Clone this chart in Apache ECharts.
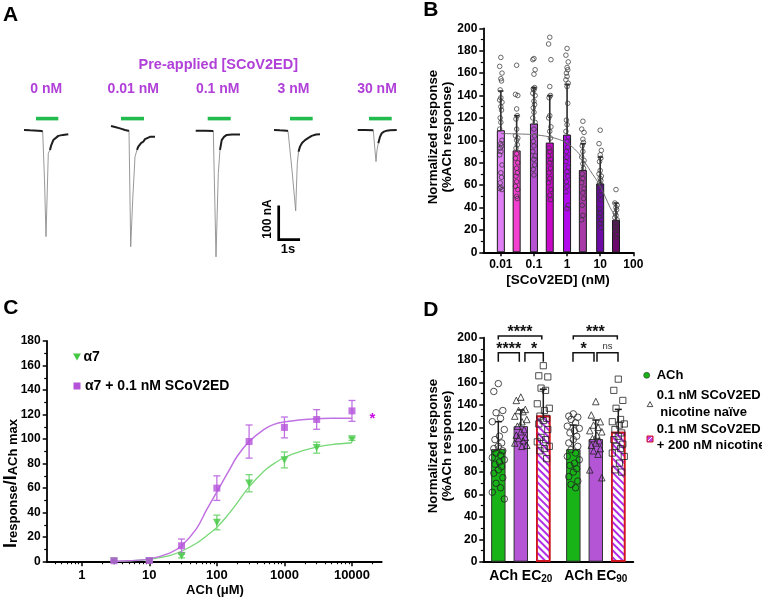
<!DOCTYPE html>
<html>
<head>
<meta charset="utf-8">
<script src="https://cdn.jsdelivr.net/npm/echarts@6.0.0/dist/echarts.min.js"></script>
<style>
html,body{margin:0;padding:0;background:#fff;}
#chart{width:762px;height:598px;}
</style>
</head>
<body>
<div id="chart"></div>
<script>
// ======================= DATA =======================
// ---- Panel A: example current traces, points are [time (s), current (nA)] ----
const aConcLabels = ['0 nM', '0.01 nM', '0.1 nM', '3 nM', '30 nM'];
const aTrace1Pre   = [[1.2,0],[1.5,-1],[1.9,-2],[2.085,-3],[2.135,-5]];
const aTrace1Spike = [[2.135,-5],[2.225,-153],[2.3,-327],[2.35,-215],[2.415,-71],[2.5,-61]];
const aTrace1Tail  = [[2.5,-61],[2.55,-49],[2.665,-31],[2.75,-25],[2.915,-18],[3.15,-15],[3.415,-13]];
const aTrace2Pre   = [[5.55,12],[5.75,9],[6.0,5],[6.25,0],[6.415,-2],[6.45,-3]];
const aTrace2Spike = [[6.45,-3],[6.535,-358],[6.635,-215],[6.75,-82],[6.85,-61]];
const aTrace2Tail  = [[6.85,-61],[6.915,-51],[7.05,-40],[7.165,-36],[7.25,-28],[7.335,-22],[7.5,-21],[7.75,-21]];
const aTrace3Pre   = [[9.785,-2],[10.25,-2],[10.665,-3]];
const aTrace3Spike = [[10.665,-3],[10.8,-389],[10.85,-276],[10.915,-133],[11.0,-61]];
const aTrace3Tail  = [[11.0,-61],[11.085,-31],[11.2,-21],[11.335,-15],[11.6,-14],[12.0,-14]];
const aTrace4Pre   = [[13.7,0],[14.0,-1],[14.335,-2],[14.4,-3]];
const aTrace4Spike = [[14.4,-3],[14.6,-123],[14.785,-248],[14.825,-169],[14.865,-102],[14.925,-67]];
const aTrace4Tail  = [[14.925,-67],[15.0,-51],[15.1,-40],[15.25,-31],[15.4,-25],[15.585,-18],[15.8,-14],[16.0,-13]];
const aTrace5Pre   = [[17.885,0],[18.25,0],[18.665,-1]];
const aTrace5Spike = [[18.665,-1],[18.725,-46],[18.8,-97],[18.85,-61],[18.915,-41]];
const aTrace5Tail  = [[18.915,-41],[19.0,-21],[19.085,-10],[19.2,-5],[19.335,-2],[19.5,-1],[19.835,0]];
const aAppOn  = [1.8, 6.05, 10.385, 14.5, 18.45];     // ACh application start (s)
const aAppOff = [2.915, 7.2, 11.535, 15.635, 19.585]; // ACh application end (s)
const aAppLevel = 35;                                  // nA level where the bar is drawn
const aScaleT0 = 13.935, aScaleI0 = -336, aScaleNA = 100, aScaleS = 1;

// ---- Panel B ----
const bConc = [0.01, 0.03, 0.1, 0.3, 1, 3, 10, 30];
const bMean = [109, 91, 115, 98, 105, 73.5, 61.5, 29];
const bMeanPlusSD = [144, 122, 147, 140, 150, 97, 85, 44];
const bPts001 = [174,166,160,155,153,145,138,136,134,130,127,120,116,110,100,97,95,93,90,87,78,71,67,62,58,57,56];
const bPts003 = [167,141,140,128,122,119,110,104,102,100,96,93,88,84,80,75,71,68,63,59,56,50,48];
const bPts01  = [173,172,163,159,147,146,145,142,140,135,132,129,125,120,116,110,104,99,95,90,86,83,78,74,69];
const bPts03  = [192,186,172,148,140,138,122,120,112,108,102,93,90,86,83,80,75,71,66,62,56,51,47];
const bPts1   = [182,176,170,165,163,160,157,154,151,148,133,118,114,108,103,99,94,90,85,81,76,72,68,63,59,54,42,39];
const bPts3   = [117,110,107,101,98,95,90,85,82,79,75,70,66,62,57,53,48,42,33,29];
const bPts10  = [109,97,91,87,84,81,73,70,68,66,64,62,60,58,55,51,47,39,35,32,29,26,22];
const bPts30  = [56,44,42,40,38,35,33,31,29,27,25,23,21,19,16,13];
const bFitConc = [0.01, 0.03, 0.1, 0.3, 0.6, 1, 2, 3, 5, 10, 20, 30];
const bFitResp = [106, 105.7, 105, 103, 100.5, 97.5, 90, 83, 73, 59, 40, 31];
const bTickVals = [0.01, 0.1, 1, 10, 100];

// ---- Panel C ----
const cAch = [3, 10, 30, 100, 300, 1000, 3000, 10000];
const cA7Mean = [0.3, 0.3, 4.6, 32, 64, 83, 93, 100];
const cA7Err  = [0.5, 0.5, 1.5, 6, 7, 6.5, 4.5, 1];
const cScoMean = [0.8, 1, 13, 60, 98, 109.5, 116, 123];
const cScoErr  = [0.5, 1, 5.5, 10, 13.5, 8.5, 8, 8.5];
const cFitAch = [3,5,10,20,30,50,70,100,150,200,300,500,700,1000,2000,3000,5000,10000];
const cA7Fit  = [0.3,0.7,2,5,8.5,15,21,28,39,48,61,74,80,85,91,93.5,95.5,97];
const cScoFit = [0.3,0.8,2.3,7,13,27,42,57,74,86,98,108,112,114,116,116.5,117,117];
const cTickVals = [1, 10, 100, 1000, 10000];

// ---- Panel D ----
const dGroups = ['ACh EC20', 'ACh EC90'];
const dAChMean = [100.5, 100.5];
const dAChTop  = [125, 122];
const dNaiveMean = [121, 109.5];
const dNaiveTop  = [135.5, 126.5];
const dNicMean = [130.5, 116];
const dNicTop  = [154, 136];
const dAChPts20 = [159,152,135,133,128,125,118,112,109,106,103,101,99,97,95,93,91,89,87,85,82,79,75,70,66,62,56];
const dNaivePts20 = [147,144,136,135,134,130,127,125,121,118,116,113,111,110,108,106,104,103];
const dNicPts20 = [175,166,165,155,153,141,137,135,130,128,126,123,118,111,109,107,103,101,99,92];
const dAChPts90 = [132,130,129,127,124,121,119,117,115,112,109,106,103,100,97,94,91,88,86,83,80,76,72,69,66];
const dNaivePts90 = [143,131,125,122,120,117,116,113,110,108,106,104,101,99,96,82,75];
const dNicPts90 = [163,153,144,137,127,125,123,122,118,115,112,109,105,103,101,97,94,88,82,80];

// ======================= DRAWING =======================
const FONT = '"Liberation Sans", Arial, Helvetica, sans-serif';
const lg = v => Math.log10(v);
const PURPLE_TXT = '#b040d8';
const bColors = ['#e07ef6','#f23fd0','#b552d2','#c80ac8','#b20cee','#a83aa8','#6e0aa6','#6c056c'];

function T(x, y, text, size, o) {
  o = o || {};
  const st = {text, fontFamily: FONT, fontSize: size, fontWeight: o.weight || 'bold',
    fill: o.color || '#000',
    textAlign: o.align || 'center', align: o.align || 'center',
    textVerticalAlign: o.valign || 'middle', verticalAlign: o.valign || 'middle'};
  if (o.rich) st.rich = o.rich;
  const el = {type: 'text', x, y, silent: true, style: st, z: 100};
  if (o.rotation != null) el.rotation = o.rotation;
  return el;
}

function errRender(color, capHalf, lw, both) {
  return function (params, api) {
    const x = api.value(0), lo = api.value(1), hi = api.value(2);
    const a = api.coord([x, lo]), b = api.coord([x, hi]);
    const st = {stroke: color, lineWidth: lw};
    const ch = [
      {type: 'line', shape: {x1: a[0], y1: a[1], x2: b[0], y2: b[1]}, style: st},
      {type: 'line', shape: {x1: b[0] - capHalf, y1: b[1], x2: b[0] + capHalf, y2: b[1]}, style: st}
    ];
    if (both) ch.push({type: 'line', shape: {x1: a[0] - capHalf, y1: a[1], x2: a[0] + capHalf, y2: a[1]}, style: st});
    return {type: 'group', children: ch};
  };
}

function yAxisStyled(gridIndex, max) {
  return {type: 'value', gridIndex, min: 0, max, interval: 20,
    axisLine: {show: true, onZero: false, lineStyle: {color: '#000', width: 1.8}},
    axisTick: {show: true, length: 4, lineStyle: {color: '#000', width: 1.5}},
    minorTick: {show: true, splitNumber: 2, length: 2.5, lineStyle: {color: '#000', width: 1.2}},
    axisLabel: {color: '#000', fontFamily: FONT, fontWeight: 'bold', fontSize: 12, margin: 6},
    splitLine: {show: false}, minorSplitLine: {show: false}};
}

const grids = [
  {left: 0, top: 97.4, width: 400, height: 163},          // A
  {left: 483.3, top: 28.3, width: 150, height: 224},      // B
  {left: 46.7, top: 341, width: 335, height: 220.7},      // C
  {left: 483.3, top: 337.7, width: 150, height: 224}      // D
].map(g => Object.assign({show: false, containLabel: false, outerBoundsMode: 'none'}, g));

// minor ticks for the C log axis
const cMinor = [];
for (let n = -1; n <= 4; n++) for (let k = 2; k <= 9; k++) {
  const v = lg(k * Math.pow(10, n));
  if (v > -0.519 && v < 4.44) cMinor.push(v);
}

const xAxes = [
  {type: 'value', gridIndex: 0, min: 0, max: 20, show: false},
  {type: 'value', gridIndex: 1, min: -2.53, max: 2,
    axisLine: {show: true, onZero: false, lineStyle: {color: '#000', width: 1.8}},
    axisTick: {show: true, customValues: bTickVals.map(lg), length: 4, lineStyle: {color: '#000', width: 1.5}},
    axisLabel: {customValues: bTickVals.map(lg), formatter: v => String(bTickVals[Math.round(v) + 2]),
      color: '#000', fontFamily: FONT, fontWeight: 'bold', fontSize: 12, margin: 6},
    splitLine: {show: false}},
  {type: 'value', gridIndex: 2, min: -0.519, max: 4.44,
    axisLine: {show: true, onZero: false, lineStyle: {color: '#000', width: 1.8}},
    axisTick: {show: true, customValues: cTickVals.map(lg), length: 4.5, lineStyle: {color: '#000', width: 1.5}},
    axisLabel: {customValues: cTickVals.map(lg), formatter: v => String(cTickVals[Math.round(v)]),
      color: '#000', fontFamily: FONT, fontWeight: 'bold', fontSize: 13, margin: 7},
    splitLine: {show: false}},
  {type: 'value', gridIndex: 2, min: -0.519, max: 4.44, position: 'bottom',
    axisLine: {show: false, onZero: false},
    axisTick: {show: true, customValues: cMinor, length: 2.5, lineStyle: {color: '#000', width: 1.1}},
    axisLabel: {show: false}, splitLine: {show: false}},
  {type: 'category', gridIndex: 3, data: dGroups,
    axisLine: {show: true, onZero: false, lineStyle: {color: '#000', width: 1.8}},
    axisTick: {show: false},
    axisLabel: {interval: 0, hideOverlap: false, color: '#000', fontFamily: FONT, fontWeight: 'bold', margin: 7,
      formatter: v => '{a|' + v.replace(/(\d+)$/, '}{s|$1') + '}',
      rich: {a: {fontFamily: FONT, fontWeight: 'bold', fontSize: 14, color: '#000', verticalAlign: 'top', lineHeight: 16},
             s: {fontFamily: FONT, fontWeight: 'bold', fontSize: 10, color: '#000', verticalAlign: 'bottom', lineHeight: 10, padding: [9, 0, 0, 0]}}},
    splitLine: {show: false}},
  {type: 'value', gridIndex: 3, min: 0, max: 2, show: false}
];

const yAxes = [
  {type: 'value', gridIndex: 0, min: -400, max: 100, show: false},
  yAxisStyled(1, 200),
  yAxisStyled(2, 180),
  yAxisStyled(3, 200)
];

const series = [];

// ---------- Panel A ----------
const aTraces = [
  [aTrace1Pre, aTrace1Spike, aTrace1Tail],
  [aTrace2Pre, aTrace2Spike, aTrace2Tail],
  [aTrace3Pre, aTrace3Spike, aTrace3Tail],
  [aTrace4Pre, aTrace4Spike, aTrace4Tail],
  [aTrace5Pre, aTrace5Spike, aTrace5Tail]
];
aTraces.forEach(parts => parts.forEach((d, k) => {
  series.push({type: 'line', xAxisIndex: 0, yAxisIndex: 0, data: d, symbol: 'none', silent: true,
    lineStyle: k === 1 ? {color: '#8c8c8c', width: 0.9} : {color: '#1e1e1e', width: 2}, z: k === 1 ? 2 : 3});
}));
series.push({type: 'custom', xAxisIndex: 0, yAxisIndex: 0, silent: true,
  data: aAppOn.map((t, i) => [t, aAppOff[i], aAppLevel]), encode: {x: [0, 1], y: 2},
  renderItem: (p, api) => {
    const a = api.coord([api.value(0), api.value(2)]), b = api.coord([api.value(1), api.value(2)]);
    return {type: 'line', shape: {x1: a[0], y1: a[1], x2: b[0], y2: b[1]}, style: {stroke: '#22bb4e', lineWidth: 3.6}};
  }});
series.push({type: 'line', xAxisIndex: 0, yAxisIndex: 0, symbol: 'none', silent: true,
  data: [[aScaleT0, aScaleI0 + aScaleNA], [aScaleT0, aScaleI0], [aScaleT0 + aScaleS, aScaleI0]],
  lineStyle: {color: '#000', width: 2.7, cap: 'square', join: 'miter'}});

// ---------- Panel B ----------
series.push({type: 'bar', xAxisIndex: 1, yAxisIndex: 1, barWidth: 8, silent: true, z: 2,
  data: bConc.map((c, i) => ({value: [lg(c), bMean[i]], itemStyle: {color: bColors[i], borderColor: '#1a1a1a', borderWidth: 1}}))});
series.push({type: 'custom', xAxisIndex: 1, yAxisIndex: 1, silent: true, z: 3,
  data: bConc.map((c, i) => [lg(c), bMean[i], bMeanPlusSD[i]]), encode: {x: 0, y: [1, 2]},
  renderItem: errRender('#2a2a2a', 2.6, 1.6, false)});
const bPts = [bPts001, bPts003, bPts01, bPts03, bPts1, bPts3, bPts10, bPts30];
const bJit = [0, -0.035, 0.035, 0, 0.02, -0.02];
const bScatter = [];
bPts.forEach((arr, i) => arr.forEach((v, j) => bScatter.push([lg(bConc[i]) + bJit[j % bJit.length], v])));
series.push({type: 'scatter', xAxisIndex: 1, yAxisIndex: 1, silent: true, z: 4, symbol: 'circle', symbolSize: 4.6,
  itemStyle: {color: 'rgba(0,0,0,0)', borderColor: '#333', borderWidth: 0.9}, data: bScatter});
series.push({type: 'line', xAxisIndex: 1, yAxisIndex: 1, silent: true, z: 5, symbol: 'none', smooth: 0.4,
  lineStyle: {color: '#666', width: 0.9}, data: bFitConc.map((c, i) => [lg(c), bFitResp[i]])});

// ---------- Panel C ----------
const cGreen = '#45c845', cGreenLine = '#78d878', cPurple = '#b452d9', cPurpleLine = '#c172e2';
series.push({type: 'line', xAxisIndex: 2, yAxisIndex: 2, silent: true, symbol: 'none', smooth: 0.4, z: 2,
  lineStyle: {color: cGreenLine, width: 1.3}, data: cFitAch.map((c, i) => [lg(c), cA7Fit[i]])});
series.push({type: 'line', xAxisIndex: 2, yAxisIndex: 2, silent: true, symbol: 'none', smooth: 0.4, z: 2,
  lineStyle: {color: cPurpleLine, width: 1.5}, data: cFitAch.map((c, i) => [lg(c), cScoFit[i]])});
series.push({type: 'custom', xAxisIndex: 2, yAxisIndex: 2, silent: true, z: 3,
  data: cAch.map((c, i) => [lg(c), cA7Mean[i] - cA7Err[i], cA7Mean[i] + cA7Err[i]]), encode: {x: 0, y: [1, 2]},
  renderItem: errRender(cGreenLine, 3.5, 1.3, true)});
series.push({type: 'custom', xAxisIndex: 2, yAxisIndex: 2, silent: true, z: 3,
  data: cAch.map((c, i) => [lg(c), cScoMean[i] - cScoErr[i], cScoMean[i] + cScoErr[i]]), encode: {x: 0, y: [1, 2]},
  renderItem: errRender(cPurpleLine, 3.5, 1.3, true)});
series.push({type: 'scatter', xAxisIndex: 2, yAxisIndex: 2, silent: true, z: 4,
  symbol: 'path://M0,0 L10,0 L5,9 Z', symbolSize: [8, 7.5], itemStyle: {color: cGreen},
  data: cAch.map((c, i) => [lg(c), cA7Mean[i]])});
series.push({type: 'scatter', xAxisIndex: 2, yAxisIndex: 2, silent: true, z: 5,
  symbol: 'rect', symbolSize: 7, itemStyle: {color: cPurple},
  data: cAch.map((c, i) => [lg(c), cScoMean[i]])});

// ---------- Panel D ----------
const dGreen = '#17b317', dPurple = '#b455d6';
series.push({type: 'bar', xAxisIndex: 4, yAxisIndex: 3, barWidth: 14.4, barGap: '56%', silent: true, z: 2,
  data: dAChMean, itemStyle: {color: dGreen, borderColor: '#333', borderWidth: 1}});
series.push({type: 'bar', xAxisIndex: 4, yAxisIndex: 3, barWidth: 14.4, barGap: '56%', silent: true, z: 2,
  data: dNaiveMean, itemStyle: {color: dPurple, borderColor: '#333', borderWidth: 1}});
series.push({type: 'bar', xAxisIndex: 4, yAxisIndex: 3, barWidth: 14.4, barGap: '56%', silent: true, z: 2,
  data: dNicMean, itemStyle: {color: '#ffffff', borderColor: '#d4141c', borderWidth: 1.6,
    decal: {symbol: 'rect', dashArrayX: [1, 0], dashArrayY: [2, 2.2], rotation: Math.PI / 4, color: '#b22ee6'}}});
const dOff = [-0.3, 0, 0.3];   // bar centre offsets (hidden x units, one category = 1)
const dMeans = [dAChMean, dNaiveMean, dNicMean];
const dTops = [dAChTop, dNaiveTop, dNicTop];
const dErr = [];
[0, 1].forEach(g => [0, 1, 2].forEach(s => dErr.push([g + 0.5 + dOff[s], dMeans[s][g], dTops[s][g]])));
series.push({type: 'custom', xAxisIndex: 5, yAxisIndex: 3, silent: true, z: 4, data: dErr, encode: {x: 0, y: [1, 2]},
  renderItem: errRender('#1a1a1a', 3.5, 1.5, false)});
const dJit = [0, -0.06, 0.06, -0.03, 0.03, -0.08, 0.08, 0.015, -0.045, 0.045];
const dPtsSets = [[dAChPts20, dAChPts90], [dNaivePts20, dNaivePts90], [dNicPts20, dNicPts90]];
const dSymbols = ['circle', 'triangle', 'rect'];
const dSizes = [6.5, 6.5, 6.2];
[0, 1, 2].forEach(s => {
  const data = [];
  [0, 1].forEach(g => dPtsSets[s][g].forEach((v, j) => data.push([g + 0.5 + dOff[s] + dJit[j % dJit.length], v])));
  series.push({type: 'scatter', xAxisIndex: 5, yAxisIndex: 3, silent: true, z: 5, symbol: dSymbols[s], symbolSize: dSizes[s],
    itemStyle: {color: 'rgba(0,0,0,0)', borderColor: '#222', borderWidth: 1}, data});
});
// significance brackets: [from, to, level, leg length, label]
const dBrackets = [
  [0.2, 0.78, 201.5, 3, '****'], [0.2, 0.48, 186.6, 8, '****'], [0.555, 0.8, 186.6, 8, '*'],
  [1.2, 1.787, 201.5, 3, '***'], [1.196, 1.476, 186.6, 8, '*'], [1.516, 1.796, 186.6, 8, 'ns']
];
series.push({type: 'custom', xAxisIndex: 5, yAxisIndex: 3, silent: true, z: 6, clip: false,
  data: dBrackets.map(b => [b[0], b[1], b[2]]), encode: {x: [0, 1], y: 2},
  renderItem: (p, api) => {
    const b = dBrackets[p.dataIndex];
    const l = api.coord([b[0], b[2]]), r = api.coord([b[1], b[2]]);
    const lb = api.coord([b[0], b[2] - b[3]]), rb = api.coord([b[1], b[2] - b[3]]);
    const st = {stroke: '#111', lineWidth: 1.5, fill: null};
    const isNs = b[4] === 'ns';
    return {type: 'group', children: [
      {type: 'polyline', shape: {points: [lb, l, r, rb]}, style: st},
      {type: 'text', x: (l[0] + r[0]) / 2, y: l[1] - (isNs ? 6 : 3.5),
        style: {text: b[4], fontFamily: FONT, fontSize: isNs ? 9.5 : 16, fontWeight: isNs ? 'normal' : 'bold',
          fill: isNs ? '#333' : '#111', align: 'center', verticalAlign: 'middle', textAlign: 'center', textVerticalAlign: 'middle'}}
    ]};
  }});

// ---------- text / annotations ----------
const graphics = [
  T(3, 4.5, 'A', 21, {align: 'left', valign: 'top'}),
  T(423.3, -0.5, 'B', 21, {align: 'left', valign: 'top'}),
  T(3.3, 298, 'C', 21, {align: 'left', valign: 'top'}),
  T(423.3, 299.3, 'D', 21, {align: 'left', valign: 'top'}),
  T(218.3, 65, 'Pre-applied [SCoV2ED]', 14.5, {color: PURPLE_TXT}),
  T(267.5, 219, '100 nA', 12, {rotation: Math.PI / 2}),
  T(288, 249, '1s', 13),
  // B titles
  T(433, 137, 'Normalized response', 13.3, {rotation: Math.PI / 2}),
  T(447.7, 137, '(%ACh response)', 13.3, {rotation: Math.PI / 2}),
  T(558, 280.5, '[SCoV2ED] (nM)', 13.5),
  // C titles
  T(215, 590, 'ACh (\u03bcM)', 13),
  T(11, 483.5, '{a|I}{b|response}{a|/I}{b|ACh max}', 17, {rotation: Math.PI / 2,
    rich: {a: {fontFamily: FONT, fontWeight: 'bold', fontSize: 18, lineHeight: 18, verticalAlign: 'top', fill: '#000'},
           b: {fontFamily: FONT, fontWeight: 'bold', fontSize: 13, lineHeight: 13, verticalAlign: 'bottom', padding: [8, 0, 0, 0], fill: '#000'}}}),
  T(83.5, 357, '\u03b17', 14, {align: 'left'}),
  T(85, 386, '\u03b17 + 0.1 nM SCoV2ED', 14, {align: 'left'}),
  T(372.5, 418.5, '*', 15, {color: '#c40ee0'}),
  // D titles & legend
  T(433, 446, 'Normalized response', 13.3, {rotation: Math.PI / 2}),
  T(447.7, 446, '(%ACh response)', 13.3, {rotation: Math.PI / 2}),
  T(656.7, 375.5, 'ACh', 13, {align: 'left'}),
  T(656.7, 395, '0.1 nM SCoV2ED', 13, {align: 'left'}),
  T(656.7, 412, ' nicotine na\u00efve', 13, {align: 'left'}),
  T(656.7, 429.5, '0.1 nM SCoV2ED', 13, {align: 'left'}),
  T(656.7, 445.5, '+ 200 nM nicotine', 13, {align: 'left'}),
  // legend symbols
  {type: 'polygon', silent: true, shape: {points: [[73, 353.5], [81, 353.5], [77, 360.5]]}, style: {fill: cGreen}},
  {type: 'rect', silent: true, shape: {x: 73.5, y: 382.5, width: 7, height: 7}, style: {fill: cPurple}},
  {type: 'circle', silent: true, shape: {cx: 646.7, cy: 375.3, r: 3}, style: {fill: dGreen, stroke: '#333', lineWidth: 0.6}},
  {type: 'polygon', silent: true, shape: {points: [[650, 401.6], [647.2, 406.6], [652.8, 406.6]]}, style: {fill: null, stroke: '#222', lineWidth: 0.8}},
  {type: 'rect', silent: true, shape: {x: 647, y: 436, width: 6, height: 6}, style: {fill: '#c040e6', stroke: '#d4141c', lineWidth: 1}},
  {type: 'line', silent: true, shape: {x1: 648, y1: 441, x2: 652, y2: 437}, style: {stroke: '#fff', lineWidth: 1}}
];
// trace concentration labels
const aLabelX = [46.3, 133.3, 217.7, 293.5, 377];
aConcLabels.forEach((t, i) => graphics.push(T(aLabelX[i], 89.5, t, 14, {color: PURPLE_TXT})));

const chart = echarts.init(document.getElementById('chart'), null, {renderer: 'canvas'});
chart.setOption({
  animation: false,
  backgroundColor: '#fff',
  grid: grids,
  xAxis: xAxes,
  yAxis: yAxes,
  series,
  graphic: {elements: graphics}
});
</script>
</body>
</html>
